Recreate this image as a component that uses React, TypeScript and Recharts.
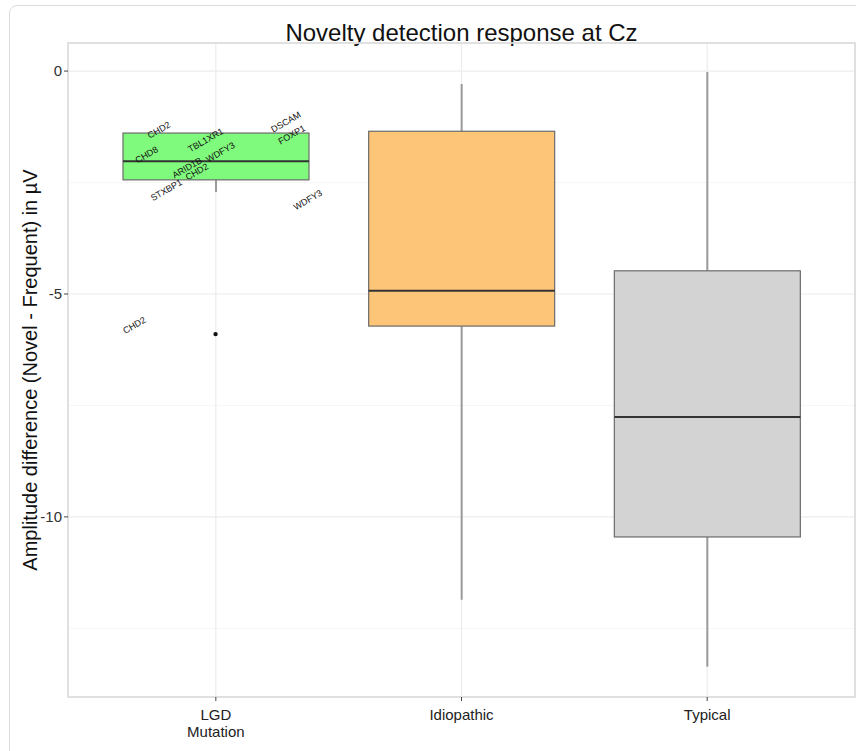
import React from 'react';
import {
  ComposedChart, Bar, Scatter, XAxis, YAxis, CartesianGrid, ReferenceArea,
} from 'recharts';

// ---- data ----
const groups = ['LGD Mutation', 'Idiopathic', 'Typical'];
const tickLines = [['LGD', 'Mutation'], ['Idiopathic'], ['Typical']];
const whiskerLow = [-2.71, -11.86, -13.36];
const q1 = [-2.44, -5.72, -10.45];
const median = [-2.02, -4.93, -7.76];
const q3 = [-1.39, -1.35, -4.48];
const whiskerHigh = [-1.39, -0.29, -0.02];

const outlierGroup = [0];
const outlierValue = [-5.9];

const geneNames = ['CHD2', 'TBL1XR1', 'DSCAM', 'FOXP1', 'CHD8', 'WDFY3', 'ARID1B', 'CHD2', 'STXBP1', 'WDFY3', 'CHD2'];
const geneX = [-0.23, -0.04, 0.286, 0.31, -0.28, 0.02, -0.116, -0.076, -0.2, 0.375, -0.33];
const geneY = [-1.32, -1.55, -1.14, -1.43, -1.88, -1.82, -2.17, -2.26, -2.67, -2.89, -5.7];

const yTicks = [0, -5, -10];
const yMinor = [-2.5, -7.5, -12.5];
const yDomain = [-14.04, 0.63];
const xNumDomain = [-0.6, 2.6];

// ---- styles ----
const fills = ['#80fa7c', '#fdc577', '#d3d3d3'];
const FONT = '"Liberation Sans", Arial, Helvetica, sans-serif';

const boxData = groups.map((g, i) => ({
  group: g,
  idx: i,
  range: [whiskerLow[i], whiskerHigh[i]],
  lo: whiskerLow[i],
  hi: whiskerHigh[i],
  q1: q1[i],
  med: median[i],
  q3: q3[i],
}));

const outlierData = outlierGroup.map((g, i) => ({ x: g, y: outlierValue[i] }));
const geneData = geneNames.map((n, i) => ({ x: geneX[i], y: geneY[i], name: n }));

const BoxShape = (props: any) => {
  const { x, y, width, height, payload } = props;
  if (x == null || y == null) return null;
  const top = Math.min(y, y + height);
  const bottom = Math.max(y, y + height);
  const span = payload.hi - payload.lo;
  const ppu = span > 0 ? (bottom - top) / span : 0;
  const py = (v: number) => top + (payload.hi - v) * ppu;
  const cx = x + width / 2;
  const fill = fills[payload.idx];
  return (
    <g>
      <line x1={cx} x2={cx} y1={py(payload.hi)} y2={py(payload.q3)} stroke="#9a9a9a" strokeWidth={2} />
      <line x1={cx} x2={cx} y1={py(payload.q1)} y2={py(payload.lo)} stroke="#9a9a9a" strokeWidth={2} />
      <rect x={x} y={py(payload.q3)} width={width} height={py(payload.q1) - py(payload.q3)}
        fill={fill} stroke="#6b6b6b" strokeWidth={1.2} />
      <line x1={x} x2={x + width} y1={py(payload.med)} y2={py(payload.med)} stroke="#333" strokeWidth={2} />
    </g>
  );
};

const GeneLabel = (props: any) => {
  const { cx, cy, payload } = props;
  if (cx == null || cy == null) return null;
  return (
    <text x={cx} y={cy} transform={`rotate(-30 ${cx} ${cy})`} textAnchor="middle" dominantBaseline="central"
      fontSize={9} fill="#111" fontFamily={FONT}>{payload.name}</text>
  );
};

const Dot = (props: any) => {
  const { cx, cy } = props;
  if (cx == null || cy == null) return null;
  return <circle cx={cx} cy={cy} r={2.2} fill="#111" />;
};

const XTick = (props: any) => {
  const { x, y, payload } = props;
  const lines = tickLines[payload.index] || [String(payload.value)];
  return (
    <text x={x} y={y + 4} textAnchor="middle" fontSize={15} fill="#222" fontFamily={FONT}>
      {lines.map((l, i) => (
        <tspan key={i} x={x} dy={i === 0 ? 13 : 17}>{l}</tspan>
      ))}
    </text>
  );
};

const YLabel = (props: any) => {
  const vb = props.viewBox || { x: 0, y: 43, width: 40, height: 654 };
  const cy = vb.y + vb.height / 2;
  const cx = 30;
  return (
    <text x={cx} y={cy} transform={`rotate(-90 ${cx} ${cy})`} textAnchor="middle" dominantBaseline="central"
      fontSize={20} fill="#111" fontFamily={FONT}>
      Amplitude difference (Novel - Frequent) in µV
    </text>
  );
};

export default function App() {
  return (
    <div style={{ position: 'absolute', left: 0, top: 0, width: 856, height: 751, overflow: 'hidden', background: '#fff', fontFamily: FONT }}>
      <div style={{ position: 'absolute', left: 9, top: 5, width: 900, height: 800, border: '1.5px solid #dcdcdc', borderRadius: 8 }} />
      <div style={{ position: 'absolute', left: 68, top: 21, width: 787, textAlign: 'center', fontSize: 24, lineHeight: '24px', color: '#111', fontFamily: FONT }}>
        Novelty detection response at Cz
      </div>
      <div style={{ position: 'absolute', left: 0, top: 0 }}>
        <ComposedChart width={856} height={751} data={boxData} margin={{ top: 43, right: 1, bottom: 0, left: 28 }}>
          <CartesianGrid xAxisId="cat" vertical={false} horizontalValues={yMinor} stroke="#f4f4f4" strokeWidth={0.8} />
          <CartesianGrid xAxisId="cat" stroke="#ececec" strokeWidth={1.2} />
          <XAxis xAxisId="cat" dataKey="group" type="category" height={54} padding={{ left: 25, right: 25 }}
            axisLine={false} tickLine={{ stroke: '#444' }} tickSize={4} tick={<XTick />} interval={0} />
          <XAxis xAxisId="num" dataKey="x" type="number" domain={xNumDomain} allowDataOverflow hide />
          <YAxis type="number" domain={yDomain} ticks={yTicks} allowDataOverflow width={40}
            axisLine={false} tickLine={{ stroke: '#444' }} tickSize={4}
            tick={{ fontSize: 15, fill: '#333', fontFamily: FONT }} label={<YLabel />} />
          <ReferenceArea xAxisId="num" x1={xNumDomain[0]} x2={xNumDomain[1]} y1={yDomain[0]} y2={yDomain[1]}
            fill="none" stroke="#d9d9d9" strokeWidth={1.5} />
          <Bar xAxisId="cat" dataKey="range" barSize={186} shape={<BoxShape />} isAnimationActive={false} />
          <Scatter xAxisId="num" data={outlierData} dataKey="y" shape={<Dot />} isAnimationActive={false} />
          <Scatter xAxisId="num" data={geneData} dataKey="y" shape={<GeneLabel />} isAnimationActive={false} />
        </ComposedChart>
      </div>
    </div>
  );
}
